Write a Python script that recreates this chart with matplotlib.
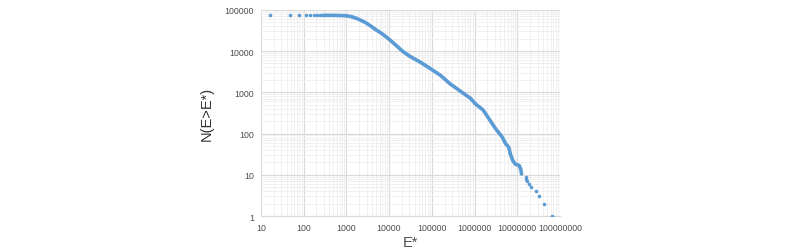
import matplotlib
matplotlib.use('Agg')
import matplotlib.pyplot as plt
from matplotlib.ticker import FuncFormatter, LogLocator

plt.rcParams['font.family'] = ['Liberation Sans', 'DejaVu Sans']

# sparse points at the low-energy end (E*, N)
head_e = [16, 48, 80, 112, 144, 176, 208, 240, 272, 304]
head_n = [74500, 74400, 74300, 74200, 74100, 74000, 73900, 73800, 73700, 73600]

# dense part of the cumulative curve
curve_e = [304, 400, 500, 650, 800, 1000, 1300, 1660, 2100, 2760, 3600, 4700,
           6200, 7400, 10500, 15000, 21000, 31000, 53700, 91000, 158000,
           270000, 510000, 800000, 1050000, 1600000, 2300000, 3100000,
           4500000, 5400000, 6300000, 6900000, 7900000, 9100000, 11000000,
           12000000, 12600000]
curve_n = [73600, 73400, 73200, 72800, 72400, 71600, 68500, 63000, 57000,
           49500, 41500, 34000, 28200, 24800, 18600, 13400, 9800, 7400,
           5400, 3800, 2600, 1600, 1000, 720, 525, 370, 210, 132, 81, 56,
           47, 32, 22, 18, 17, 14, 10.5]

# largest events, one point each
tail_e = [15800000, 16300000, 17000000, 18500000, 21000000, 27000000,
          33000000, 42000000, 65000000]
tail_n = [9, 8, 7, 6, 5, 4, 3, 2, 1]

blue = '#5B9BD5'

fig = plt.figure(figsize=(8, 2.51), dpi=100)
ax = fig.add_axes([0.326, 0.135, 0.374, 0.822])
ax.set_xscale('log')
ax.set_yscale('log')
ax.set_xlim(10, 1e8)
ax.set_ylim(1, 1e5)

ax.plot(curve_e, curve_n, '-', color=blue, lw=2.6, solid_capstyle='round', zorder=3)
ax.plot(head_e + tail_e, head_n + tail_n, 'o', color=blue, ms=2.6, mew=0, zorder=3)

ax.xaxis.set_minor_locator(LogLocator(base=10, subs=range(2, 10), numticks=20))
ax.yaxis.set_minor_locator(LogLocator(base=10, subs=range(2, 10), numticks=20))
ax.grid(True, which='major', color='#d9d9d9', lw=0.8)
ax.grid(True, which='minor', color='#eeeeee', lw=0.6)
ax.set_axisbelow(True)

fmt = FuncFormatter(lambda v, p: '%d' % round(v))
ax.xaxis.set_major_formatter(fmt)
ax.yaxis.set_major_formatter(fmt)
ax.tick_params(which='both', length=0, labelsize=6.3, colors='#4d4d4d', pad=5)

for s in ['top', 'right', 'left']:
    ax.spines[s].set_visible(False)
ax.spines['bottom'].set_color('#d9d9d9')

ax.set_xlabel('E*', fontsize=10.5, color='#4d4d4d', labelpad=2)
ax.set_ylabel('N(E>E*)', fontsize=10.5, color='#333333', labelpad=8)

fig.savefig('out.png', dpi=100, facecolor='white')
